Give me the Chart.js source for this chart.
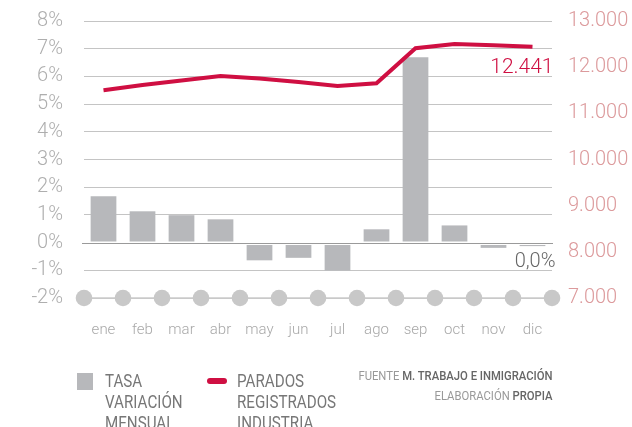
<!DOCTYPE html>
<html>
<head>
<meta charset="utf-8">
<script src="https://cdn.jsdelivr.net/npm/chart.js@4/dist/chart.umd.min.js"></script>
<style>
  html, body { margin: 0; padding: 0; background: #fff; }
  #wrap { position: relative; width: 632px; height: 427px; overflow: hidden; font-family: Roboto, sans-serif; }
  #chart { position: absolute; left: 0; top: 0; }
  .swatch { position: absolute; }
  .legtext { position: absolute; color: #777; font-size: 18.5px; line-height: 21px; transform: scaleX(0.82); transform-origin: left top; white-space: nowrap; }
  #source { position: absolute; right: 79px; top: 366px; font-size: 12px; line-height: 20px; color: #999; text-align: right; transform: scaleX(0.94); transform-origin: right top; white-space: nowrap; }
  #source b { font-weight: 500; color: #666; }
</style>
</head>
<body>
<div id="wrap">
  <canvas id="chart" width="632" height="427"></canvas>
  <div class="swatch" style="left:77px;top:373px;width:16px;height:17px;background:#b7b8bb;"></div>
  <div class="legtext" style="left:105px;top:371px;">TASA<br>VARIACIÓN<br>MENSUAL</div>
  <div class="swatch" style="left:207px;top:378px;width:20px;height:6px;border-radius:3px;background:#cf0f42;"></div>
  <div class="legtext" style="left:237px;top:371px;">PARADOS<br>REGISTRADOS<br>INDUSTRIA</div>
  <div id="source">FUENTE <b>M. TRABAJO E INMIGRACIÓN</b><br>ELABORACIÓN <b>PROPIA</b></div>
</div>
<script>
const months = ['ene', 'feb', 'mar', 'abr', 'may', 'jun', 'jul', 'ago', 'sep', 'oct', 'nov', 'dic'];
const tasaVariacion = [1.67, 1.13, 0.99, 0.84, -0.64, -0.55, -1.01, 0.48, 6.69, 0.62, -0.19, -0.04];
const parados = [11500, 11615, 11710, 11810, 11755, 11680, 11590, 11650, 12410, 12500, 12475, 12441];

const barColor = '#b7b8bb';
const lineColor = '#cf0f42';

// circles on the bottom row, at the category boundaries
const dotsPlugin = {
  id: 'dots',
  beforeDatasetsDraw(chart) {
    const { ctx } = chart;
    const x = chart.scales.x;
    const y = chart.scales.y.getPixelForValue(-2);
    const first = x.getPixelForValue(-0.5);
    const last = x.getPixelForValue(months.length - 0.5);
    ctx.save();
    ctx.strokeStyle = '#cbcbcb';
    ctx.lineWidth = 1.5;
    ctx.beginPath();
    ctx.moveTo(first, y);
    ctx.lineTo(last, y);
    ctx.stroke();
    ctx.fillStyle = '#c8c8c8';
    for (let i = 0; i <= months.length; i++) {
      const px = x.getPixelForValue(i - 0.5);
      ctx.beginPath();
      ctx.arc(px, y, 8.3, 0, Math.PI * 2);
      ctx.fill();
    }
    ctx.restore();
  }
};

// zero line with a white gap, plus the two value labels
const labelsPlugin = {
  id: 'labels',
  afterDatasetsDraw(chart) {
    const { ctx, chartArea } = chart;
    const y0 = Math.round(chart.scales.y.getPixelForValue(0));
    ctx.save();
    ctx.fillStyle = '#fff';
    ctx.fillRect(chartArea.left, y0 - 1.5, chartArea.right - chartArea.left, 3.5);
    ctx.fillStyle = '#9a9a9a';
    ctx.fillRect(chartArea.left - 2, y0, chartArea.right - chartArea.left + 3, 1);

    const last = months.length - 1;
    const linePt = chart.getDatasetMeta(1).data[last];
    ctx.fillStyle = lineColor;
    ctx.font = '300 21px Roboto';
    ctx.textAlign = 'right';
    ctx.textBaseline = 'alphabetic';
    ctx.fillText(parados[last].toLocaleString('de-DE'), linePt.x + 21, linePt.y + 26);

    const barPt = chart.getDatasetMeta(0).data[last];
    ctx.fillStyle = '#666';
    ctx.font = '300 20px Roboto';
    ctx.fillText(Math.abs(tasaVariacion[last]).toFixed(1).replace('.', ',') + '%', barPt.x + 23, y0 + 24);
    ctx.restore();
  }
};

new Chart(document.getElementById('chart'), {
  data: {
    labels: months,
    datasets: [
      {
        type: 'bar',
        label: 'TASA VARIACIÓN MENSUAL',
        data: tasaVariacion,
        backgroundColor: barColor,
        barPercentage: 0.66,
        categoryPercentage: 1,
        minBarLength: 3.5,
        yAxisID: 'y',
        order: 2
      },
      {
        type: 'line',
        label: 'PARADOS REGISTRADOS INDUSTRIA',
        data: parados,
        borderColor: lineColor,
        borderWidth: 4,
        pointRadius: 0,
        tension: 0,
        yAxisID: 'y1',
        order: 1
      }
    ]
  },
  options: {
    responsive: false,
    animation: false,
    layout: { padding: { top: 21, left: 0, right: 0, bottom: 0 } },
    plugins: { legend: { display: false }, tooltip: { enabled: false } },
    scales: {
      x: {
        grid: { display: false },
        border: { display: false },
        ticks: { color: '#a8a8a8', font: { family: 'Roboto', size: 15, weight: 300 }, padding: 15 },
        afterFit(s) { s.height = 129; }
      },
      y: {
        position: 'left',
        min: -2,
        max: 8,
        border: { display: false },
        grid: { color: '#c4c4c4', lineWidth: 1, drawTicks: true, tickLength: 19, tickColor: 'rgba(0,0,0,0)' },
        ticks: {
          stepSize: 1,
          color: '#aeaeae',
          padding: 2,
          font: { family: 'Roboto', size: 20, weight: 300 },
          callback: v => v + '%'
        },
        afterFit(s) { s.width = 84; }
      },
      y1: {
        position: 'right',
        min: 7000,
        max: 13000,
        border: { display: false },
        grid: { drawOnChartArea: false, drawTicks: true, tickLength: 14, tickColor: 'rgba(0,0,0,0)' },
        ticks: {
          stepSize: 1000,
          color: '#dc9a9c',
          padding: 2,
          font: { family: 'Roboto', size: 20, weight: 300 },
          callback: v => v.toLocaleString('de-DE')
        },
        afterFit(s) { s.width = 80; }
      }
    }
  },
  plugins: [dotsPlugin, labelsPlugin]
});
</script>
</body>
</html>
